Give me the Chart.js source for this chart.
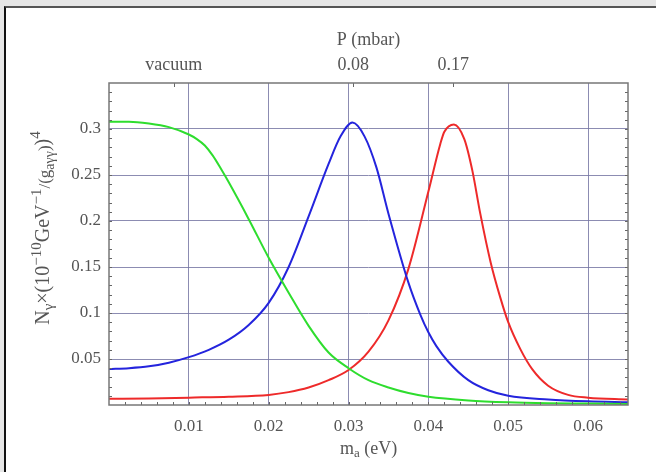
<!DOCTYPE html>
<html>
<head>
<meta charset="utf-8">
<script src="https://cdn.jsdelivr.net/npm/chart.js@4"></script>
<style>
  html, body { margin: 0; padding: 0; }
  body { width: 656px; height: 472px; background: #e6e6e6; position: relative; overflow: hidden; }
  #sheet {
    position: absolute; left: 4px; top: 6px; right: 0; bottom: 0;
    background: #fff; border-left: 2px solid #111; border-top: 2px solid #555;
  }
  #chart { position: absolute; left: 0; top: 0; }
</style>
</head>
<body>
<div id="sheet"></div>
<canvas id="chart" width="656" height="472"></canvas>
<script>
/* =========================
   Data
========================= */
// vacuum (green)
const vacuumMass = [0, 0.0025, 0.005, 0.0075, 0.01, 0.011, 0.012, 0.013, 0.014, 0.015, 0.0175, 0.02, 0.0225, 0.025, 0.0275, 0.03, 0.0325, 0.035, 0.0375, 0.04, 0.045, 0.05, 0.055, 0.06, 0.065];
const vacuumN    = [0.308, 0.308, 0.306, 0.302, 0.294, 0.289, 0.282, 0.271, 0.257, 0.242, 0.202, 0.160, 0.122, 0.086, 0.057, 0.040, 0.027, 0.019, 0.013, 0.009, 0.005, 0.003, 0.002, 0.0015, 0.001];

// 0.08 mbar (blue)
const p008Mass = [0, 0.0025, 0.005, 0.0075, 0.01, 0.0125, 0.015, 0.0175, 0.02, 0.0225, 0.025, 0.0275, 0.029, 0.0305, 0.032, 0.0335, 0.035, 0.0375, 0.039, 0.04, 0.041, 0.0425, 0.045, 0.0475, 0.05, 0.055, 0.06, 0.065];
const p008N    = [0.039, 0.040, 0.042, 0.046, 0.052, 0.060, 0.071, 0.087, 0.111, 0.150, 0.205, 0.262, 0.292, 0.307, 0.292, 0.258, 0.208, 0.133, 0.098, 0.079, 0.064, 0.047, 0.027, 0.016, 0.010, 0.006, 0.004, 0.003];

// 0.17 mbar (red)
const p017Mass = [0, 0.005, 0.01, 0.015, 0.02, 0.0225, 0.025, 0.0275, 0.03, 0.0325, 0.035, 0.0375, 0.04, 0.0415, 0.042, 0.0432, 0.0445, 0.0455, 0.0465, 0.0478, 0.049, 0.05, 0.0515, 0.053, 0.055, 0.0575, 0.06, 0.065];
const p017N    = [0.0067, 0.007, 0.008, 0.009, 0.011, 0.014, 0.019, 0.027, 0.038, 0.058, 0.092, 0.148, 0.232, 0.284, 0.297, 0.305, 0.289, 0.255, 0.208, 0.155, 0.117, 0.090, 0.061, 0.039, 0.021, 0.011, 0.008, 0.006];

// axes
const xTicks = [0.01, 0.02, 0.03, 0.04, 0.05, 0.06];
const yTicks = [0.05, 0.1, 0.15, 0.2, 0.25, 0.3];
const pTickMass = [0.0081, 0.0306, 0.0431];
const pTickLabels = ["vacuum", "0.08", "0.17"];

/* =========================
   Helpers
========================= */
const TEXT = "#555";
const FONT = "Liberation Serif";
const GRID = "rgba(120,120,165,0.85)";

function toPoints(xs, ys) {
  return xs.map((x, i) => ({ x, y: ys[i] }));
}

function fixedTicks(values) {
  return scale => { scale.ticks = values.map(v => ({ value: v })); };
}

// draws a run of [text, size, shift] pieces starting at (x, y)
function drawRich(ctx, parts, x, y) {
  parts.forEach(([txt, size, shift]) => {
    ctx.font = `${size}px "${FONT}"`;
    ctx.fillText(txt, x, y + shift);
    x += ctx.measureText(txt).width;
  });
}

function richWidth(ctx, parts) {
  return parts.reduce((w, [txt, size]) => {
    ctx.font = `${size}px "${FONT}"`;
    return w + ctx.measureText(txt).width;
  }, 0);
}

const yTitle = [
  ["N", 20, 0], ["γ", 15, 5], ["×(10", 20, 0], ["−10", 15, -7],
  ["GeV", 20, 0], ["−1", 15, -7], ["/(g", 17, 2], ["aγγ", 14, 6], [")", 17, 2], [")", 20, 0], ["4", 15, -8]
];
const xTitle = [["m", 18, 0], ["a", 13, 5], [" (eV)", 18, 0]];

/* =========================
   Frame, minor ticks, titles
========================= */
const decorations = {
  id: "decorations",
  afterDraw(chart) {
    const { ctx, chartArea: a, scales } = chart;
    const x = scales.x, y = scales.y;
    ctx.save();

    // minor ticks
    ctx.strokeStyle = "#666";
    ctx.lineWidth = 1;
    ctx.beginPath();
    for (let m = 0.002; m < 0.065; m += 0.002) {
      const px = Math.round(x.getPixelForValue(m)) + 0.5;
      ctx.moveTo(px, a.bottom); ctx.lineTo(px, a.bottom - 3);
    }
    for (let v = 0.01; v < 0.35; v += 0.01) {
      const py = Math.round(y.getPixelForValue(v)) + 0.5;
      ctx.moveTo(a.left, py); ctx.lineTo(a.left + 3, py);
      ctx.moveTo(a.right, py); ctx.lineTo(a.right - 3, py);
    }
    pTickMass.forEach(m => {
      const px = Math.round(x.getPixelForValue(m)) + 0.5;
      ctx.moveTo(px, a.top); ctx.lineTo(px, a.top + 4);
    });
    ctx.stroke();

    // frame
    ctx.strokeStyle = "#777";
    ctx.lineWidth = 1.5;
    ctx.strokeRect(a.left, a.top, a.right - a.left, a.bottom - a.top);

    // axis titles
    ctx.fillStyle = TEXT;
    ctx.textBaseline = "middle";
    ctx.textAlign = "left";
    const xw = richWidth(ctx, xTitle);
    drawRich(ctx, xTitle, (a.left + a.right) / 2 - xw / 2, 449);

    const yw = richWidth(ctx, yTitle);
    ctx.translate(44, 228);
    ctx.rotate(-Math.PI / 2);
    drawRich(ctx, yTitle, -yw / 2, 0);
    ctx.restore();
  }
};

/* =========================
   Chart
========================= */
function lineSet(label, xs, ys, color) {
  return {
    label,
    data: toPoints(xs, ys),
    borderColor: color,
    borderWidth: 2,
    pointRadius: 0,
    cubicInterpolationMode: "monotone",
    fill: false
  };
}

new Chart(document.getElementById("chart"), {
  type: "line",
  data: {
    datasets: [
      lineSet("vacuum", vacuumMass, vacuumN, "#2edd2e"),
      lineSet("0.08 mbar", p008Mass, p008N, "#2424dd"),
      lineSet("0.17 mbar", p017Mass, p017N, "#ee2a2a")
    ]
  },
  options: {
    responsive: false,
    animation: false,
    layout: { padding: { left: 0, right: 28, top: 0, bottom: 0 } },
    plugins: { legend: { display: false }, tooltip: { enabled: false } },
    scales: {
      x: {
        type: "linear",
        position: "bottom",
        min: 0,
        max: 0.065,
        afterBuildTicks: fixedTicks(xTicks),
        afterFit: s => { s.height = 67; },
        grid: { color: GRID, lineWidth: 1, drawTicks: false },
        border: { display: false },
        ticks: {
          color: TEXT,
          font: { family: FONT, size: 17 },
          padding: 11,
          maxRotation: 0,
          callback: v => v.toFixed(2)
        }
      },
      x2: {
        type: "linear",
        position: "top",
        min: 0,
        max: 0.065,
        afterBuildTicks: fixedTicks(pTickMass),
        afterFit: s => { s.height = 83; },
        grid: { display: false, drawTicks: false },
        border: { display: false },
        ticks: {
          color: TEXT,
          font: { family: FONT, size: 18 },
          padding: 7,
          maxRotation: 0,
          autoSkip: false,
          callback: (v, i) => pTickLabels[i]
        },
        title: {
          display: true,
          text: "P (mbar)",
          color: TEXT,
          font: { family: FONT, size: 18 },
          padding: { top: 29, bottom: 0 }
        }
      },
      y: {
        type: "linear",
        position: "left",
        min: 0,
        max: 0.35,
        afterBuildTicks: fixedTicks(yTicks),
        afterFit: s => { s.width = 109; },
        grid: { color: GRID, lineWidth: 1, drawTicks: false },
        border: { display: false },
        ticks: {
          color: TEXT,
          font: { family: FONT, size: 17 },
          padding: 8,
          callback: v => String(v)
        }
      }
    }
  },
  plugins: [decorations]
});
</script>
</body>
</html>
